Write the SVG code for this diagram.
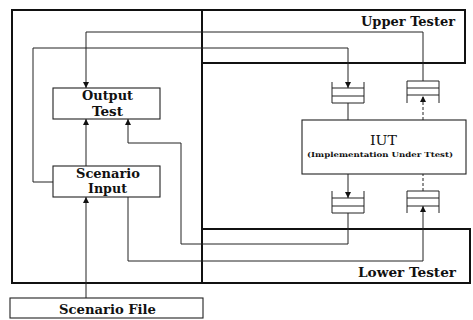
<svg xmlns="http://www.w3.org/2000/svg" width="473" height="320" viewBox="0 0 473 320">
<style>
.frame{fill:none;stroke:#111;stroke-width:2}
.box{fill:#fff;stroke:#222;stroke-width:1.1}
.q{fill:#fff;stroke:#222;stroke-width:1}
.c{fill:none;stroke:#222;stroke-width:1}
.d{stroke-dasharray:3 2}
.t{font-family:"DejaVu Serif","Liberation Serif",serif;font-weight:bold;fill:#111;text-anchor:middle}
.n{font-weight:normal}
</style>
<defs>
<marker id="ah" markerUnits="userSpaceOnUse" markerWidth="8" markerHeight="8" refX="6" refY="3.5" orient="auto">
<path d="M0,0.5 L6,3.5 L0,6.5 Z" fill="#111"/>
</marker>
</defs>
<rect width="473" height="320" fill="#fff"/>
<g id="scenario-tester"><rect class="frame" x="12" y="10" width="190" height="273"/></g>
<g id="upper-tester"><rect class="frame" x="202" y="10" width="263" height="53"/>
<text class="t" x="408" y="26" font-size="13" textLength="94" lengthAdjust="spacingAndGlyphs">Upper Tester</text></g>
<g id="lower-tester"><rect class="frame" x="202" y="229" width="268" height="54"/>
<text class="t" x="407" y="277" font-size="13" textLength="98" lengthAdjust="spacingAndGlyphs">Lower Tester</text></g>
<g id="output-test"><rect class="box" x="53" y="88" width="107" height="31"/>
<text class="t" x="107.5" y="100" font-size="12" textLength="51" lengthAdjust="spacingAndGlyphs">Output</text>
<text class="t" x="107.5" y="116" font-size="12" textLength="31" lengthAdjust="spacingAndGlyphs">Test</text></g>
<g id="scenario-input"><rect class="box" x="53" y="166" width="107" height="31"/>
<text class="t" x="108" y="178" font-size="12" textLength="64" lengthAdjust="spacingAndGlyphs">Scenario</text>
<text class="t" x="107.5" y="193" font-size="12" textLength="39" lengthAdjust="spacingAndGlyphs">Input</text></g>
<g id="scenario-file"><rect class="box" x="10" y="298" width="193" height="20"/>
<text class="t" x="107.5" y="314" font-size="12" textLength="97" lengthAdjust="spacingAndGlyphs">Scenario File</text></g>
<g id="iut"><rect class="box" x="302" y="120" width="164" height="54" stroke-width="1.5"/>
<text class="t n" x="383.5" y="145" font-size="13" textLength="27" lengthAdjust="spacingAndGlyphs">IUT</text>
<text class="t" x="380" y="157" font-size="7" textLength="146" lengthAdjust="spacingAndGlyphs">(Implementation Under Ttest)</text></g>
<g id="queue-upper-in"><path class="q" d="M332,82 V103 H364 V82 M332,88 H364 M332,96 H364"/></g>
<g id="queue-upper-out"><path class="q" d="M407,103 V81 H439 V103 M407,88 H439 M407,95 H439"/></g>
<g id="queue-lower-out"><path class="q" d="M332,191 V213 H364 V191 M332,198 H364 M332,206 H364"/></g>
<g id="queue-lower-in"><path class="q" d="M407,213 V191 H439 V213 M407,198 H439 M407,206 H439"/></g>
<g id="connectors">
<path class="c" d="M86,298 V197" marker-end="url(#ah)"/>
<path class="c" d="M86,166 V119" marker-end="url(#ah)"/>
<path class="c" d="M53,182 H33 V48 H348 V88" marker-end="url(#ah)"/>
<path class="c" d="M348,103 V120"/>
<path class="c d" d="M423,120 V96" marker-end="url(#ah)"/>
<path class="c" d="M423,81 V32 H86 V88" marker-end="url(#ah)"/>
<path class="c" d="M348,174 V198" marker-end="url(#ah)"/>
<path class="c" d="M348,213 V244 H181 V143 H128 V119" marker-end="url(#ah)"/>
<path class="c" d="M128,197 V261 H423 V206" marker-end="url(#ah)"/>
<path class="c d" d="M423,191 V174"/>
</g>
</svg>
